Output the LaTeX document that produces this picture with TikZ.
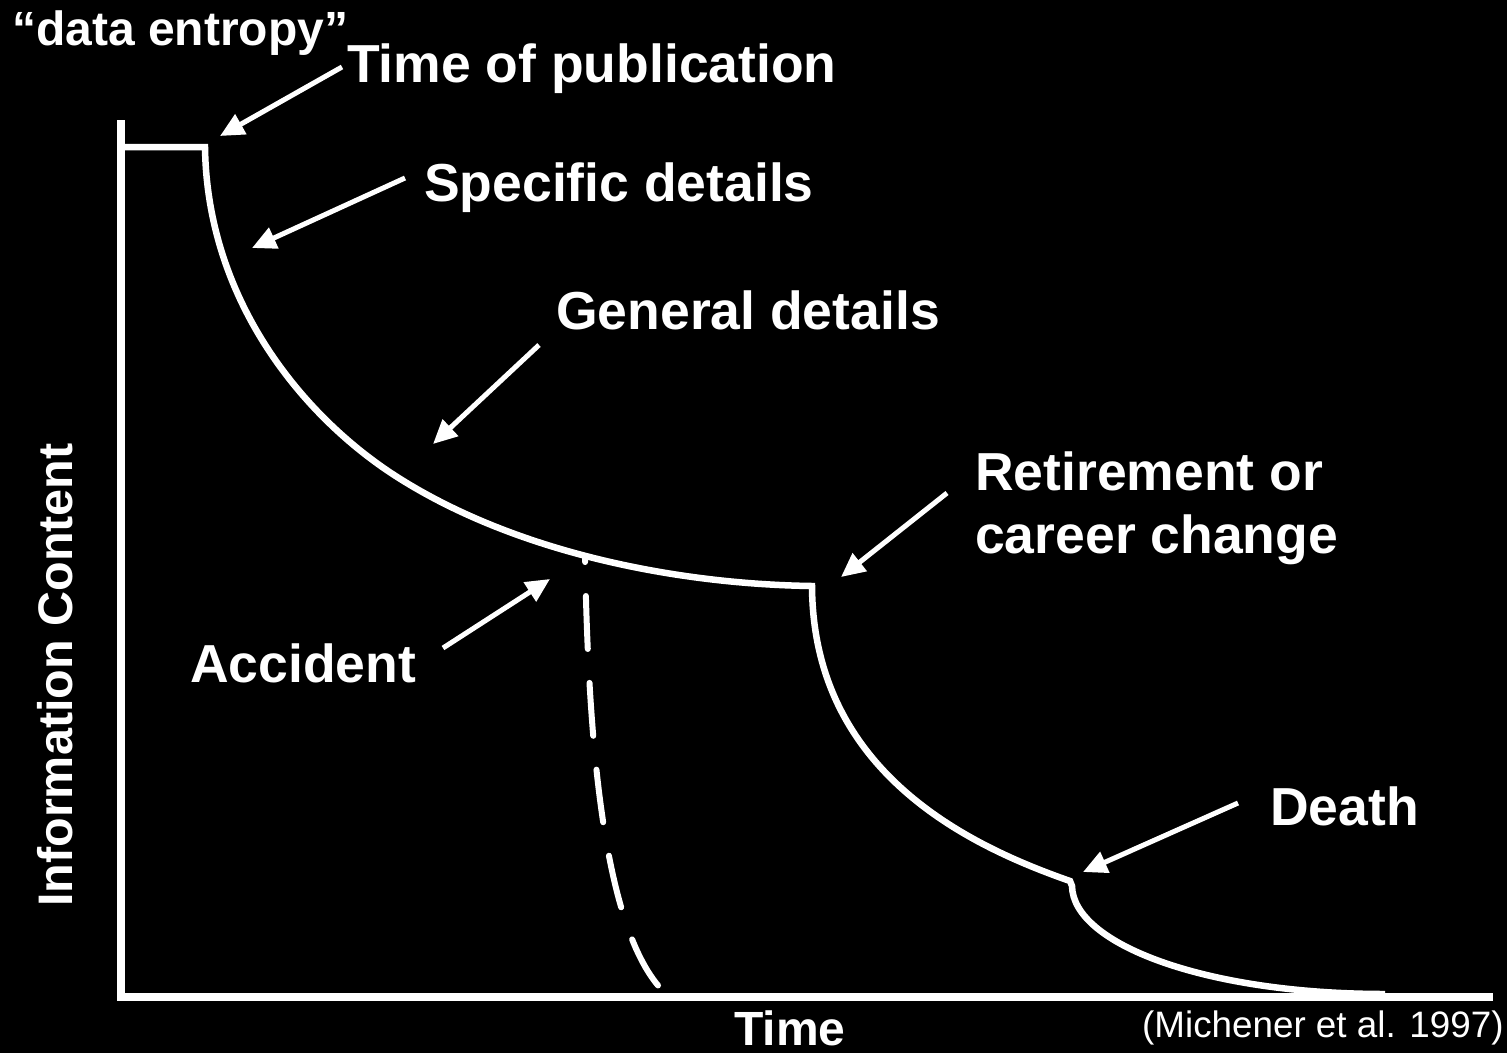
\documentclass[tikz,border=0pt]{standalone}
\usepackage{fontspec}
\setmainfont{Liberation Sans}
\usetikzlibrary{arrows.meta}
\begin{document}
\begin{tikzpicture}[x=1pt,y=-1pt,
  lbl/.style={text=white,font=\fontsize{53.5}{63}\selectfont\bfseries,anchor=base west,inner sep=0pt,align=left},
  axlbl/.style={text=white,font=\fontsize{48.5}{56}\selectfont\bfseries,anchor=base west,inner sep=0pt},
  ptr/.style={draw=white,line width=5pt,-{Triangle[length=24pt,width=22pt]}},
  curve/.style={draw=white,line width=6.5pt,line join=miter},
  axis/.style={draw=white,line width=7.5pt}]
\fill[black] (0,0) rectangle (1507,1053);
\useasboundingbox (0,0) rectangle (1507,1053);

% axes
\coordinate (ytop) at (121,120);
\coordinate (origin) at (121,997);
\coordinate (xend) at (1493,997);
\draw[axis] (ytop) -- (origin) -- (xend);

% main curve
\coordinate (c0) at (123,147);
\coordinate (c1) at (205,147);
\coordinate (c2) at (391,473);
\coordinate (c3) at (812,586);
\coordinate (c4) at (1070,881);
\coordinate (c5) at (1072,886);
\coordinate (c6) at (1385,994);
\draw[curve] (c0) -- (c1)
  .. controls (207,297) and (299,412) .. (c2)
  .. controls (508,550) and (670,584) .. (c3)
  .. controls (813,776) and (976,848) .. (c4)
  -- (c5)
  .. controls (1073,944) and (1205,994) .. (c6);

% accident (dashed)
\draw[white,line width=6pt,line cap=round,dash pattern=on 53pt off 34pt,dash phase=48pt]
  (585,557) .. controls (588,720) and (600,930) .. (665,993);

% labels
\node[axlbl,font=\fontsize{48}{56}\selectfont\bfseries] (entropy) at (12,45) {“data entropy”};
\node[lbl] (pub) at (347,82) {Time of publication};
\node[lbl] (spec) at (424,201) {Specific details};
\node[lbl] (gen) at (556,329) {General details};
\node[lbl] (ret) at (975,553) {Retirement or\\career change};
\node[lbl] (acc) at (190,682) {Accident};
\node[lbl] (death) at (1270,825) {Death};
\node[axlbl,font=\fontsize{48}{56}\selectfont\bfseries] (time) at (734,1045) {Time};
\node[axlbl,rotate=90] (info) at (72,907) {Information Content};
\node[text=white,font=\fontsize{36.8}{44}\selectfont,anchor=base west,inner sep=0pt] (cite) at (1142,1037) {(Michener et al. 1997)};

% arrows
\coordinate (pubS) at (342,67);   \coordinate (pubT) at (220,136);
\coordinate (specS) at (405,178); \coordinate (specT) at (252,248);
\coordinate (genS) at (539,345);  \coordinate (genT) at (433,444);
\coordinate (accS) at (443,648);  \coordinate (accT) at (550,579);
\coordinate (retS) at (947,493);  \coordinate (retT) at (841,577);
\coordinate (deathS) at (1238,803); \coordinate (deathT) at (1083,872);
\draw[ptr] (pubS) -- (pubT);
\draw[ptr] (specS) -- (specT);
\draw[ptr] (genS) -- (genT);
\draw[ptr] (accS) -- (accT);
\draw[ptr] (retS) -- (retT);
\draw[ptr] (deathS) -- (deathT);
\end{tikzpicture}
\end{document}
